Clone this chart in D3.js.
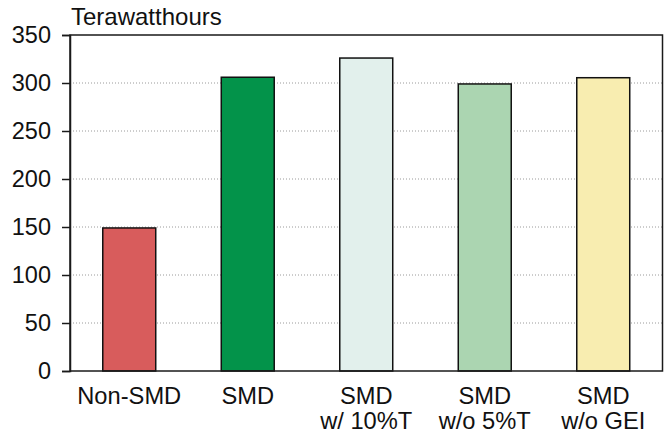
<!DOCTYPE html>
<html>
<head>
<meta charset="utf-8">
<script src="https://cdn.jsdelivr.net/npm/d3@7"></script>
<style>
  html, body { margin: 0; padding: 0; background: #fff; }
  svg { display: block; font-family: "Liberation Sans", Arial, sans-serif; }
</style>
</head>
<body>
<svg id="chart" width="668" height="433"></svg>
<script>
const categories = [["Non-SMD"], ["SMD"], ["SMD", "w/ 10%T"], ["SMD", "w/o 5%T"], ["SMD", "w/o GEI"]];
const values = [149, 306, 326, 299, 305.5];
const colors = ["#d85c5c", "#03934a", "#e2f0ec", "#abd5b1", "#f8edb0"];
const yTicks = [0, 50, 100, 150, 200, 250, 300, 350];
const unitLabel = "Terawatthours";

const svg = d3.select("#chart");
const pLeft = 70, pRight = 662.5, pTop = 35, pBottom = 371;

const x = d3.scaleBand()
  .domain(d3.range(categories.length))
  .range([pLeft, pRight])
  .paddingInner(0.553)
  .paddingOuter(0.2765);

const y = d3.scaleLinear().domain([0, 350]).range([pBottom, pTop]);

// gridlines
svg.append("g")
  .selectAll("line")
  .data(yTicks.filter(t => t > 0 && t < 350))
  .join("line")
  .attr("x1", pLeft).attr("x2", pRight)
  .attr("y1", d => y(d)).attr("y2", d => y(d))
  .attr("stroke", "#9a9a9a")
  .attr("stroke-width", 1)
  .attr("stroke-dasharray", "1,2");

// bars
svg.append("g")
  .selectAll("rect")
  .data(values)
  .join("rect")
  .attr("x", (d, i) => x(i))
  .attr("width", x.bandwidth())
  .attr("y", d => y(d))
  .attr("height", d => y(0) - y(d))
  .attr("fill", (d, i) => colors[i])
  .attr("stroke", "#111")
  .attr("stroke-width", 1.5);

// frame
svg.append("rect")
  .attr("x", pLeft).attr("y", pTop)
  .attr("width", pRight - pLeft).attr("height", pBottom - pTop)
  .attr("fill", "none")
  .attr("stroke", "#1a1a1a")
  .attr("stroke-width", 1.5);

// y axis
const yAxis = d3.axisLeft(y).tickValues(yTicks).tickSize(8).tickPadding(11);
const gy = svg.append("g").attr("transform", `translate(${pLeft},0)`).call(yAxis);
gy.attr("font-size", 23.5).attr("font-family", "'Liberation Sans', Arial, sans-serif");
gy.select(".domain").attr("stroke", "#1a1a1a").attr("stroke-width", 1.5);
gy.selectAll(".tick line").attr("stroke", "#1a1a1a").attr("stroke-width", 1.5);
gy.selectAll(".tick text")
  .attr("font-size", 23.5)
  .attr("fill", "#111");

// x labels
const gx = svg.append("g");
categories.forEach((lines, i) => {
  const t = gx.append("text")
    .attr("x", x(i) + x.bandwidth() / 2)
    .attr("y", 404)
    .attr("text-anchor", "middle")
    .attr("font-size", 23.7)
    .attr("fill", "#111");
  lines.forEach((ln, j) => {
    t.append("tspan")
      .attr("x", x(i) + x.bandwidth() / 2)
      .attr("dy", j === 0 ? 0 : 25)
      .text(ln);
  });
});

// unit label
svg.append("text")
  .attr("x", 71)
  .attr("y", 25)
  .attr("font-size", 24)
  .attr("fill", "#111")
  .text(unitLabel);
</script>
</body>
</html>
